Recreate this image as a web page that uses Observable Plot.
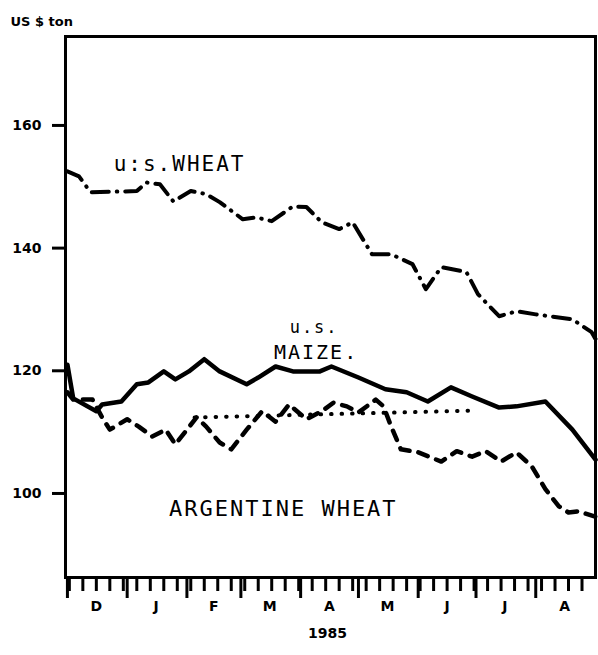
<!DOCTYPE html>
<html><head><meta charset="utf-8">
<script src="https://cdn.jsdelivr.net/npm/d3@7"></script>
<script src="https://cdn.jsdelivr.net/npm/@observablehq/plot@0.6"></script>
<style>body{margin:0;background:#fff}</style>
</head><body><div id="chart"></div>
<script>
// ---- data (US $ per ton) ----
const wheatDates = ["1984-12-01","1984-12-07","1984-12-13","1985-01-06","1985-01-11","1985-01-18","1985-01-25","1985-02-03","1985-02-11","1985-02-18","1985-03-02","1985-03-09","1985-03-17","1985-03-28","1985-04-04","1985-04-12","1985-04-21","1985-04-28","1985-05-08","1985-05-18","1985-05-29","1985-06-05","1985-06-13","1985-06-26","1985-07-02","1985-07-13","1985-07-22","1985-08-01","1985-08-20","1985-08-30","1985-09-01"];
const wheatPrices = [152.5,151.7,149.1,149.3,150.7,150.4,147.6,149.3,148.8,147.5,144.7,145.0,144.4,146.8,146.7,144.2,143.1,144.2,139.0,139.0,137.4,133.3,136.9,136.1,132.5,128.9,129.7,129.2,128.4,126.3,125.2];

const maizeDates = ["1984-12-01","1984-12-04","1984-12-16","1984-12-19","1984-12-29","1985-01-06","1985-01-12","1985-01-20","1985-01-26","1985-02-02","1985-02-10","1985-02-18","1985-03-04","1985-03-10","1985-03-19","1985-03-28","1985-04-11","1985-04-17","1985-05-01","1985-05-15","1985-05-26","1985-06-06","1985-06-18","1985-06-29","1985-07-13","1985-07-22","1985-08-06","1985-08-20","1985-09-01"];
const maizePrices = [121.0,115.5,113.4,114.5,115.0,117.8,118.1,119.9,118.6,119.9,121.9,119.9,117.8,118.9,120.7,119.9,119.9,120.7,118.9,117.0,116.5,115.0,117.3,115.8,114.0,114.2,115.0,110.4,105.5];

const argDates = ["1984-12-01","1984-12-04","1984-12-14","1984-12-19","1984-12-23","1985-01-01","1985-01-07","1985-01-14","1985-01-21","1985-01-26","1985-02-01","1985-02-06","1985-02-11","1985-02-18","1985-02-24","1985-03-04","1985-03-12","1985-03-19","1985-03-26","1985-04-04","1985-04-12","1985-04-18","1985-04-25","1985-05-01","1985-05-10","1985-05-14","1985-05-18","1985-05-23","1985-06-01","1985-06-13","1985-06-21","1985-06-29","1985-07-06","1985-07-14","1985-07-22","1985-07-30","1985-08-06","1985-08-13","1985-08-18","1985-08-23","1985-09-01"];
const argPrices = [116.5,115.3,115.3,112.4,110.4,112.1,110.9,109.3,110.4,108.0,110.4,112.4,110.9,108.3,107.2,110.4,113.4,111.7,114.5,112.1,113.4,114.8,114.2,113.2,115.3,114.2,110.9,107.2,106.7,105.2,106.9,106.0,106.9,105.2,106.7,104.4,100.7,97.9,96.9,97.1,96.2];

const otherDates = ["1985-02-05","1985-06-30"];
const otherPrices = [112.4,113.5];

const yTicks = [100,120,140,160];
const monthLabels = ["D","J","F","M","A","M","J","J","A"];
const monthMidDates = ["1984-12-16","1985-01-16","1985-02-15","1985-03-16","1985-04-16","1985-05-16","1985-06-16","1985-07-16","1985-08-16"];
const yearLabel = "1985";
const unitLabel = "US $ ton";

// ---- build tables ----
const parse = d3.utcParse("%Y-%m-%d");
const rows = (ds, vs) => ds.map((d, i) => ({date: parse(d), value: vs[i]}));
const wheat = rows(wheatDates, wheatPrices);
const maize = rows(maizeDates, maizePrices);
const arg = rows(argDates, argPrices);
const other = rows(otherDates, otherPrices);

const x0 = parse("1984-11-30"), x1 = parse("1985-09-01");
const weekTicks = d3.utcWeek.range(x0, x1);
const monthStarts = d3.utcMonth.range(parse("1984-12-01"), x1);
const mids = monthMidDates.map(parse);
const labMap = new Map(mids.map((d, i) => [+d, monthLabels[i]]));

const mono = "DejaVu Sans Mono";
const bold = {fontFamily: "DejaVu Sans", fontWeight: "bold"};

const chart = Plot.plot({
  width: 598, height: 655,
  marginLeft: 65, marginRight: 3, marginTop: 36, marginBottom: 78,
  style: {background: "#fff", color: "#000"},
  x: {type: "utc", domain: [x0, x1]},
  y: {domain: [86.3, 174.5]},
  marks: [
    Plot.frame({stroke: "#000", strokeWidth: 3}),
    Plot.axisY({ticks: yTicks, tickSize: 13, tickPadding: 11, strokeWidth: 3, fontSize: 14, ...bold, label: null, tickFormat: d => d}),
    Plot.axisX({ticks: weekTicks, tickSize: 14, strokeWidth: 3, tickFormat: () => "", label: null}),
    Plot.axisX({ticks: monthStarts, tickSize: 21, strokeWidth: 3, tickFormat: () => "", label: null}),
    Plot.axisX({ticks: mids, tickSize: 0, tickPadding: 24, fontSize: 14, ...bold, tickFormat: d => labMap.get(+d), label: null}),
    Plot.line(other, {x: "date", y: "value", stroke: "#000", strokeWidth: 4, strokeDasharray: "0.5,10", strokeLinecap: "round"}),
    Plot.line(wheat, {x: "date", y: "value", stroke: "#000", strokeWidth: 4, strokeDasharray: "17,8,0.5,8", strokeLinecap: "round", strokeLinejoin: "round"}),
    Plot.line(maize, {x: "date", y: "value", stroke: "#000", strokeWidth: 4.5, strokeLinejoin: "round"}),
    Plot.line(arg, {x: "date", y: "value", stroke: "#000", strokeWidth: 4.5, strokeDasharray: "10,9", strokeLinecap: "round", strokeLinejoin: "round"}),
    Plot.text([unitLabel], {frameAnchor: "top-left", dx: -55, dy: -20, textAnchor: "start", fontSize: 13, ...bold}),
    Plot.text([yearLabel], {frameAnchor: "bottom", dx: -3, dy: 60, fontSize: 14, ...bold}),
    Plot.text(["u:s.WHEAT"], {x: [parse("1984-12-25")], y: [153.7], textAnchor: "start", fontSize: 21, fontFamily: mono}),
    Plot.text(["u.s."], {x: [parse("1985-04-08")], y: [127.0], fontSize: 17, fontFamily: mono}),
    Plot.text(["MAIZE."], {x: [parse("1985-04-09")], y: [122.9], fontSize: 20, fontFamily: mono}),
    Plot.text(["ARGENTINE WHEAT"], {x: [parse("1985-03-23")], y: [97.4], fontSize: 22, fontFamily: mono})
  ]
});
chart.querySelectorAll('g[font-family="DejaVu Sans Mono"]').forEach(g => g.setAttribute("letter-spacing", "2"));
document.getElementById("chart").append(chart);
</script>
</body></html>
